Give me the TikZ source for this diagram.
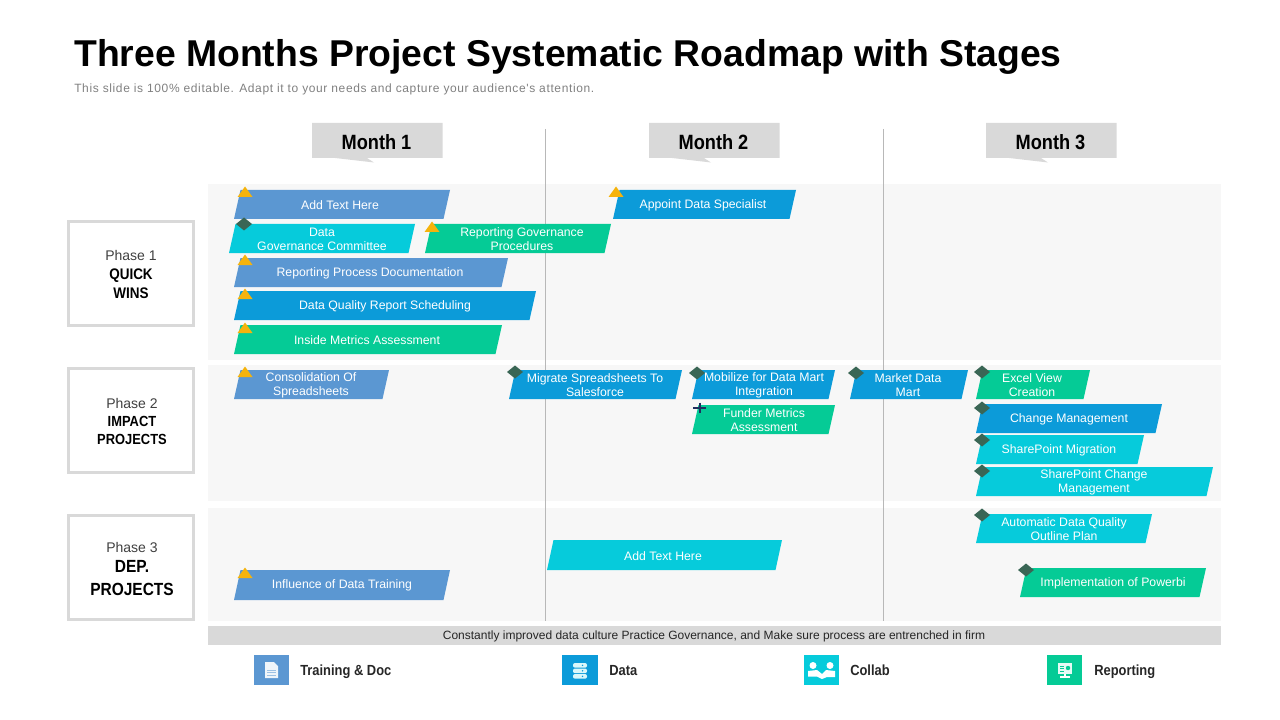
\documentclass[tikz,border=0pt]{standalone}
\usepackage{fontspec}
\setmainfont{Liberation Sans}
\newfontfamily\narrowfont[FakeStretch=0.88]{Liberation Sans}
\newfontfamily\spreadfont[LetterSpace=5.2]{Liberation Sans}
\usepackage{tikz}
\definecolor{docblue}{HTML}{5B97D2}
\definecolor{datablue}{HTML}{0C9BD9}
\definecolor{collabcyan}{HTML}{06CBDB}
\definecolor{reportgreen}{HTML}{05CB96}
\definecolor{amber}{HTML}{F5B30C}
\definecolor{darkgem}{HTML}{3A6655}
\definecolor{plusnavy}{HTML}{1F2F5F}
\definecolor{softgrey}{HTML}{D9D9D9}
\definecolor{paneback}{HTML}{F7F7F7}
\tikzset{
	tasklabel/.style={text=white,font=\fontsize{9.2}{10.4}\selectfont,align=center,inner sep=0pt},
	monthlabel/.style={font=\narrowfont\bfseries\fontsize{15.5}{18}\selectfont,inner sep=0pt},
	phasebox/.style={draw=softgrey,line width=2.6pt,fill=white},
	phaselabel/.style={font=\fontsize{10.5}{12}\selectfont,text=black!75,inner sep=0pt,anchor=base},
	phasebold/.style={font=\narrowfont\bfseries\fontsize{11}{13}\selectfont,inner sep=0pt,anchor=base},
	legendlabel/.style={font=\narrowfont\bfseries\fontsize{11}{13}\selectfont,text=black!85,anchor=base west,inner sep=0pt},
}
\begin{document}
\begin{tikzpicture}[x=0.75pt,y=-0.75pt]
	\useasboundingbox (0,0) rectangle (1280,720);
	
	% title
	\node[anchor=base west,inner sep=0pt,font=\bfseries\fontsize{28}{30}\selectfont] (title) at (74,66.5) {Three Months Project Systematic Roadmap with Stages};
	\node[anchor=base west,inner sep=0pt,text=black!50,font=\spreadfont\fontsize{9}{11}\selectfont] (subtitle) at (74,92.5) {This slide is 100\% editable. Adapt it to your needs and capture your audience's attention.};
	
	% panes
	\foreach \t/\b in {184/360, 365/501, 508/621}{
		\fill[paneback] (208,\t) rectangle (1221,\b);
	}
	
	% month dividers
	\foreach \x/\y in {A/545.5, B/883}{
		\coordinate (top\x) at (\y,129);
		\coordinate (bot\x) at (\y,621);
		\draw[black!28,line width=0.75pt] (top\x)--(bot\x);
	}
	
	% month tags
	\foreach \n/\x in {1/312, 2/649, 3/986}{
		\fill[softgrey] (\x,123) -- (\x+130.5,123) -- (\x+130.5,158) -- (\x+55,158) -- (\x+62,162.5) -- (\x+23,158) -- (\x,158) -- cycle;
		\node[monthlabel] (month\n) at (\x+64.5,142) {Month \n};
	}
	
	% phase boxes
	\foreach \n/\t/\b in {one/220/327, two/367/474, three/514/621}{
		\node[phasebox,minimum width=94pt,minimum height=78pt,inner sep=0pt] (box\n) at (131,{(\t+\b)/2}) {};
	}
	\node[phaselabel] (phaseone) at (131,260.5) {Phase 1};
	\node[phasebold,font=\narrowfont\bfseries\fontsize{11.5}{13}\selectfont] (quick) at (131,279.5) {QUICK};
	\node[phasebold,font=\narrowfont\bfseries\fontsize{11.5}{13}\selectfont] (wins) at (131,298.5) {WINS};
	\node[phaselabel] (phasetwo) at (132,408.5) {Phase 2};
	\node[phasebold] (impact) at (132,426) {IMPACT};
	\node[phasebold] (projtwo) at (132,444.5) {PROJECTS};
	\node[phaselabel] (phasethree) at (132,552.5) {Phase 3};
	\node[phasebold,font=\narrowfont\bfseries\fontsize{13.2}{16}\selectfont] (dep) at (132,572) {DEP.};
	\node[phasebold,font=\narrowfont\bfseries\fontsize{13.2}{16}\selectfont] (projthree) at (132,595) {PROJECTS};
	
	% task bars
	\foreach \n/\l/\r/\t/\b/\c/\x/\s in {
		addone/234/450/190/219/docblue/340/{Add Text Here},
		govcom/229/415/224/253/collabcyan/322/{Data\\Governance Committee},
		govproc/425/611/224/253/reportgreen/522/{Reporting Governance\\Procedures},
		repdoc/234/508/258/287/docblue/370/{Reporting Process Documentation},
		qualsched/234/536/291/320/datablue/385/{Data Quality Report Scheduling},
		inside/234/502/325/354/reportgreen/367/{Inside Metrics Assessment},
		appoint/613/796/190/219/datablue/703/{Appoint Data Specialist},
		consol/234/389/370/399/docblue/311/{Consolidation Of\\Spreadsheets},
		migrate/509/682/370/399/datablue/595/{Migrate Spreadsheets To\\Salesforce},
		mobil/692/835/370/399/datablue/764/{Mobilize for Data Mart\\Integration},
		market/850/968/370/399/datablue/908/{Market Data\\Mart},
		excel/976/1090/370/399/reportgreen/1032/{Excel View\\Creation},
		funder/692/835/405/434/reportgreen/764/{Funder Metrics\\Assessment},
		change/976/1162/404/433/datablue/1069/{Change Management},
		spmig/976/1144/435/464/collabcyan/1059/{SharePoint Migration},
		spchange/976/1213/467/496/collabcyan/1094/{SharePoint Change\\Management},
		autoqual/976/1152/514/543/collabcyan/1064/{Automatic Data Quality\\Outline Plan},
		addtwo/547/782/540/570/collabcyan/663/{Add Text Here},
		influ/234/450/570/600/docblue/342/{Influence of Data Training},
		powerbi/1020/1206/568/597/reportgreen/1113/{Implementation of Powerbi}%
	}{
		\fill[\c] (\l+6.5,\t) -- (\r,\t) -- (\r-6.5,\b) -- (\l,\b) -- cycle;
		\node[tasklabel] (\n) at (\x,{(\t+\b)/2+0.8}) {\s};
	}
	
	% amber markers
	\foreach \x/\y in {245/192, 432/227, 245/260, 245/294, 245/328, 616/192, 245/372, 245/573}{
		\fill[amber] (\x,\y-5.5) -- (\x+7.5,\y+5) -- (\x-7.5,\y+5) -- cycle;
	}
	
	% dark markers
	\foreach \x/\y in {244/224, 515/372, 697/373, 856/373, 982/372, 982/408, 982/440, 982/471, 982/515, 1026/570}{
		\fill[darkgem] (\x,\y-6.5) -- (\x+8,\y) -- (\x,\y+6.5) -- (\x-8,\y) -- cycle;
	}
	
	% plus marker
	\draw[plusnavy,line width=1.5pt] (693,407.5) -- (706,407.5) (699.5,402.5) -- (699.5,412.5);
	
	% footer strip
	\fill[softgrey] (208,626) rectangle (1221,645);
	\node[inner sep=0pt,text=black!85,font=\fontsize{9}{11}\selectfont] (footer) at (714,636) {Constantly improved data culture Practice Governance, and Make sure process are entrenched in firm};
	
	% legend
	\foreach \n/\l/\r/\c/\s/\x in {
		doc/254/289/docblue/{Training \& Doc}/300,
		data/562/598/datablue/{Data}/609,
		collab/804/839/collabcyan/{Collab}/850,
		rep/1047/1082/reportgreen/{Reporting}/1094%
	}{
		\fill[\c] (\l,655) rectangle (\r,685);
		\node[legendlabel] (\n) at (\x,675) {\s};
	}
	
	% doc icon
	\fill[white!90!docblue] (265,662) -- (274,662) -- (278,666) -- (278,678) -- (265,678) -- cycle;
	\foreach \y in {670,672.5,675}{
		\draw[docblue!60,line width=0.5pt] (267,\y) -- (276,\y);
	}
	
	% data icon
	\foreach \y in {663,668.5,674}{
		\fill[white!85!collabcyan,rounded corners=1.5pt] (573,\y) rectangle (587,\y+4.7);
		\fill[datablue] (582.5,\y+2.3) circle (0.8);
	}
	
	% collab icon
	\foreach \x in {813,830}{
		\fill[white] (\x,665.5) circle (3.5);
	}
	\fill[white] (808,671) -- (817,670) -- (822,674) -- (826,670) -- (835,671) -- (835,677) -- (827,677) -- (822,679) -- (817,676.5) -- (808,676.5) -- cycle;
	
	% report icon
	\fill[white!90!reportgreen] (1058,663) rectangle (1072,674);
	\draw[white,line width=0.8pt] (1065,674) -- (1065,677) (1060,677) -- (1070,677);
	\foreach \y in {666,668.5,671}{
		\draw[reportgreen,line width=0.5pt] (1060,\y) -- (1064,\y);
	}
	\fill[reportgreen] (1068,668) circle (2.2);
\end{tikzpicture}
\end{document}
